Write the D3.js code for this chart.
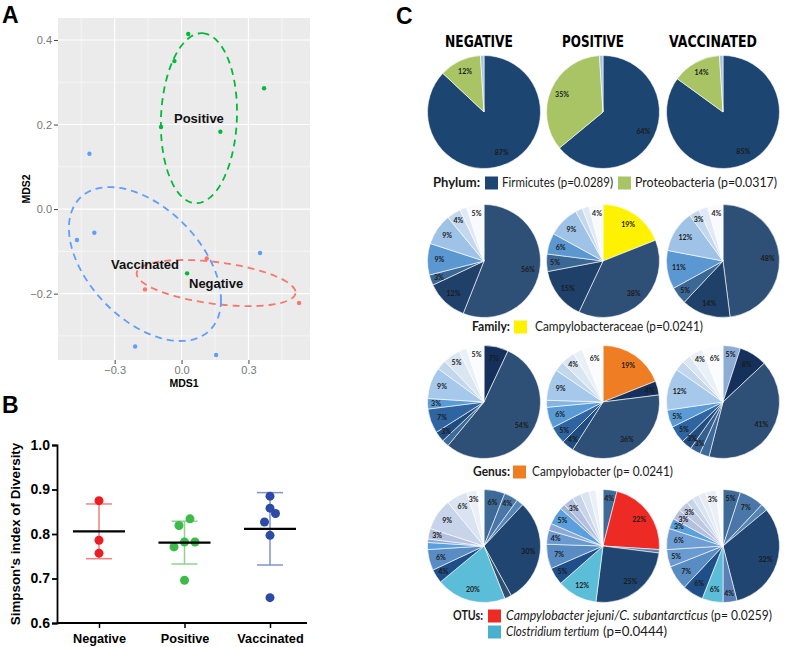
<!DOCTYPE html>
<html><head><meta charset="utf-8">
<script src="https://cdn.jsdelivr.net/npm/d3@7"></script>
<style>body{margin:0;background:#fff} svg{display:block}</style>
</head><body><svg id="c" width="787" height="647"></svg>
<script>
// ================= DATA =================
// Panel A : NMDS ordination
const groups = ["Negative", "Positive", "Vaccinated"];
const mdsNegX = [0.113, -0.164, 0.527];
const mdsNegY = [-0.117, -0.190, -0.222];
const mdsPosX = [0.030, -0.032, -0.092, 0.174, 0.370, 0.025];
const mdsPosY = [0.414, 0.350, 0.194, 0.183, 0.286, -0.152];
const mdsVacX = [-0.413, -0.391, -0.469, 0.352, -0.208, 0.155];
const mdsVacY = [0.131, -0.056, -0.073, -0.104, -0.325, -0.345];
// ellipse centre and conjugate semi-axis vectors (data units)
const ellNegC = [0.155, -0.175], ellNeg = [[0.356, -0.024], [-0.012, -0.049]];
const ellPosC = [0.078, 0.215], ellPos = [[0.0157, 0.201], [0.170, -0.004]];
const ellVacC = [-0.164, -0.130], ellVac = [[0.341, -0.085], [0.0, -0.161]];
const mdsXTicks = [-0.3, 0.0, 0.3];
const mdsYTicks = [-0.2, 0.0, 0.2, 0.4];

// Panel B : Simpson's index
const simpNeg = [0.875, 0.786, 0.757];
const simpPos = [0.834, 0.819, 0.782, 0.782, 0.771, 0.696];
const simpVac = [0.885, 0.858, 0.846, 0.827, 0.797, 0.657];
const simpTicks = [0.6, 0.7, 0.8, 0.9, 1.0];

// Panel C : relative abundances (%), slices clockwise from 12 o'clock
const pieTitles = ["NEGATIVE", "POSITIVE", "VACCINATED"];
const phylumKeys = ["Firmicutes", "Proteobacteria", "PhylumOther"];
const phylumNeg = [87, 12, 1];
const phylumPos = [64, 35, 1];
const phylumVac = [85, 14, 1];

const familyNegKeys = ["FamA", "FamB", "FamC", "FamD", "FamE", "FamF", "FamG", "FamOther"];
const familyNeg = [56, 12, 3, 9, 9, 4, 2, 5];
const familyPosKeys = ["Campylobacteraceae", "FamA", "FamB", "FamC", "FamD", "FamE", "FamF", "FamG", "FamOther"];
const familyPos = [19, 38, 15, 5, 6, 9, 2, 2, 4];
const familyVacKeys = ["FamA", "FamB", "FamC", "FamD", "FamE", "FamF", "FamG", "FamOther"];
const familyVac = [48, 14, 5, 11, 12, 3, 2.6, 4.4];

const genusNegKeys = ["GenA", "GenB", "GenC", "GenD", "GenE", "GenF", "GenH", "GenI", "GenJ", "GenK", "GenOther"];
const genusNeg = [7, 54, 2, 3, 7, 3, 9, 2.8, 5, 2.2, 5];
const genusPosKeys = ["Campylobacter", "GenA", "GenB", "GenD", "GenE", "GenF", "GenG", "GenH", "GenI", "GenJ", "GenK", "GenOther"];
const genusPos = [19, 4, 36, 3.5, 5, 6, 2, 9, 2.8, 4, 2.7, 6];
const genusVacKeys = ["GenTop", "GenA", "GenB", "GenC", "GenL", "GenD", "GenE", "GenF", "GenH", "GenI", "GenJ", "GenK", "GenOther"];
const genusVac = [5, 8, 41, 2.7, 3, 3, 5, 5, 12, 2.8, 2.5, 4, 6];

const otuNegKeys = ["OtuA", "OtuB", "OtuC", "OtuD", "OtuE", "Clostridium", "OtuF", "OtuG", "OtuI", "OtuJ", "OtuK", "OtuL", "OtuM", "OtuN", "OtuOther"];
const otuNeg = [6, 4, 2, 30, 2, 20, 4, 6, 2, 1, 3, 9, 6, 3, 2];
const otuPosKeys = ["OtuA", "CampyOTU", "OtuC", "OtuD", "Clostridium", "OtuF", "OtuG", "OtuH", "OtuJ", "OtuI", "OtuP", "OtuK", "OtuL", "OtuM", "OtuN", "OtuOther"];
const otuPos = [4, 22, 1, 25, 11.5, 5, 7, 4, 2, 5, 1.5, 3, 2.5, 2.5, 2, 2];
const otuVacKeys = ["OtuA", "OtuB", "OtuC", "OtuD", "OtuQ", "Clostridium", "OtuF", "OtuG", "OtuH", "OtuR", "OtuI", "OtuK", "OtuS", "OtuL", "OtuM", "OtuT", "OtuN", "OtuOther"];
const otuVac = [5, 7, 2, 32, 4, 6, 6, 7, 5, 6, 3, 3, 3, 2, 2, 2, 3, 2];

// ================= STYLE =================
const sliceColor = {
  Firmicutes: "#1d4571", Proteobacteria: "#a8c464", PhylumOther: "#a9c2e0",
  Campylobacteraceae: "#fff200",
  FamA: "#2f5076", FamB: "#1f4069", FamC: "#3b6795", FamD: "#5b97d1", FamE: "#9fc3e6",
  FamF: "#c3d8ee", FamG: "#dfeaf6", FamOther: "#f8fafd",
  Campylobacter: "#ee7d23",
  GenTop: "#8eabd3", GenA: "#15305a", GenB: "#2f5076", GenC: "#3d6a98", GenD: "#214c80",
  GenL: "#355f8e", GenE: "#2e64a0", GenF: "#5b9bd5", GenG: "#86b4e2", GenH: "#a6c8ea",
  GenI: "#c2d6ec", GenJ: "#dbe6f3", GenK: "#eaf0f8", GenOther: "#fbfcfe",
  CampyOTU: "#ee2a24", Clostridium: "#5bbdd7",
  OtuA: "#3e6a98", OtuB: "#4a77a8", OtuC: "#5585b5", OtuD: "#1f4570", OtuE: "#2f4f70",
  OtuF: "#1f4f88", OtuG: "#5a8cc4", OtuH: "#6a9bd0", OtuI: "#5aa0dd", OtuJ: "#8ea8d5",
  OtuP: "#9bb4dc", OtuQ: "#5a7fb5", OtuR: "#6f9ed5", OtuK: "#b4c0de", OtuS: "#bfc8e2",
  OtuL: "#c8d4ea", OtuM: "#dae3f1", OtuT: "#e4ebf5", OtuN: "#ebf0f8", OtuOther: "#fafbfd"
};
const grpColA = {Negative: "#f8766d", Positive: "#00ba38", Vaccinated: "#619cff"};
const grpColB = {Negative: "#ee1d24", Positive: "#3dbb4a", Vaccinated: "#2c4aa6"};
const barColB = {Negative: "#f3807c", Positive: "#8fd38f", Vaccinated: "#8193cf"};

const svg = d3.select("#c");
const SANS = "'Liberation Sans', Arial, Helvetica, sans-serif";
const NARROW = "'Liberation Sans Narrow', 'Arial Narrow', 'DejaVu Sans Condensed', sans-serif";
const CAL = "Lato, 'Open Sans', sans-serif";

// panel letters
[["A", 2, 23], ["B", 2, 413], ["C", 396, 24]].forEach(([t, x, y]) =>
  svg.append("text").attr("x", x).attr("y", y).text(t)
    .attr("font-family", SANS).attr("font-weight", "bold").attr("font-size", 23));

// ================= PANEL A =================
(function () {
  const L = 58, R = 310, T = 18, B = 360;
  const x = d3.scaleLinear().domain([-0.554, 0.576]).range([L, R]);
  const y = d3.scaleLinear().domain([-0.357, 0.452]).range([B, T]);
  const g = svg.append("g");
  g.append("rect").attr("x", L).attr("y", T).attr("width", R - L).attr("height", B - T).attr("fill", "#ebebeb");
  const xMinor = [-0.45, -0.15, 0.15, 0.45], yMinor = [-0.3, -0.1, 0.1, 0.3];
  g.selectAll(".vm").data(xMinor).join("line").attr("x1", d => x(d)).attr("x2", d => x(d)).attr("y1", T).attr("y2", B).attr("stroke", "#fff").attr("stroke-width", 0.55);
  g.selectAll(".hm").data(yMinor).join("line").attr("y1", d => y(d)).attr("y2", d => y(d)).attr("x1", L).attr("x2", R).attr("stroke", "#fff").attr("stroke-width", 0.55);
  g.selectAll(".vM").data(mdsXTicks).join("line").attr("x1", d => x(d)).attr("x2", d => x(d)).attr("y1", T).attr("y2", B).attr("stroke", "#fff").attr("stroke-width", 1.1);
  g.selectAll(".hM").data(mdsYTicks).join("line").attr("y1", d => y(d)).attr("y2", d => y(d)).attr("x1", L).attr("x2", R).attr("stroke", "#fff").attr("stroke-width", 1.1);

  const fmt = d => d === 0 ? "0.0" : d3.format(".1f")(d);
  const ax = g.append("g").attr("transform", `translate(${L},0)`).call(d3.axisLeft(y).tickValues(mdsYTicks).tickSize(4).tickPadding(2).tickFormat(fmt));
  const bx = g.append("g").attr("transform", `translate(0,${B})`).call(d3.axisBottom(x).tickValues(mdsXTicks).tickSize(4).tickPadding(2).tickFormat(fmt));
  [ax, bx].forEach(a => {
    a.select(".domain").remove();
    a.selectAll("line").attr("stroke", "#444");
    a.selectAll("text").attr("fill", "#777").attr("font-size", 11).attr("font-family", SANS);
  });
  g.append("text").attr("x", (L + R) / 2).attr("y", 387).attr("text-anchor", "middle").text("MDS1")
    .attr("font-family", SANS).attr("font-weight", "bold").attr("font-size", 10.5);
  g.append("text").attr("transform", `translate(30,${(T + B) / 2}) rotate(-90)`).attr("text-anchor", "middle").text("MDS2")
    .attr("font-family", SANS).attr("font-weight", "bold").attr("font-size", 10.5);

  const sets = [
    ["Negative", mdsNegX, mdsNegY, ellNegC, ellNeg],
    ["Positive", mdsPosX, mdsPosY, ellPosC, ellPos],
    ["Vaccinated", mdsVacX, mdsVacY, ellVacC, ellVac]
  ];
  svg.append("clipPath").attr("id", "clipA").append("rect").attr("x", L).attr("y", T).attr("width", R - L).attr("height", B - T);
  sets.forEach(([name, xs, ys, c, e]) => {
    const ts = d3.range(0, 2 * Math.PI + 0.001, Math.PI / 90);
    const pts = ts.map(t => [c[0] + e[0][0] * Math.cos(t) + e[1][0] * Math.sin(t), c[1] + e[0][1] * Math.cos(t) + e[1][1] * Math.sin(t)]);
    g.append("path").attr("clip-path", "url(#clipA)")
      .attr("d", d3.line().x(d => x(d[0])).y(d => y(d[1]))(pts))
      .attr("fill", "none").attr("stroke", grpColA[name]).attr("stroke-width", 1.8).attr("stroke-dasharray", "7,5");
    g.selectAll(null).data(xs.map((v, i) => [v, ys[i]])).join("circle")
      .attr("cx", d => x(d[0])).attr("cy", d => y(d[1])).attr("r", 2.2).attr("fill", grpColA[name]);
  });
  sets.forEach(([name, xs, ys, c]) => {
    g.append("text").attr("x", x(c[0])).attr("y", y(c[1]) + 4.5).attr("text-anchor", "middle").text(name)
      .attr("font-family", SANS).attr("font-weight", "bold").attr("font-size", 13).attr("fill", "#111");
  });
})();

// ================= PANEL B =================
(function () {
  const g = svg.append("g");
  const y = d3.scaleLinear().domain([0.6, 1.0]).range([623, 445]);
  const x = d3.scalePoint().domain(groups).range([99, 270]);
  const ay = g.append("g").attr("transform", "translate(57,0)").call(d3.axisLeft(y).tickValues(simpTicks).tickSize(5).tickPadding(2).tickFormat(d3.format(".1f")));
  ay.select(".domain").attr("stroke", "#000").attr("stroke-width", 1.8);
  ay.selectAll("line").attr("stroke", "#000").attr("stroke-width", 1.8);
  ay.selectAll("text").attr("font-family", SANS).attr("font-weight", "bold").attr("font-size", 14).attr("fill", "#000");
  const axb = g.append("g").attr("transform", "translate(0,623)").call(d3.axisBottom(x).tickSize(5).tickPadding(4).tickSizeOuter(0));
  axb.select(".domain").attr("d", "M57,0H307").attr("stroke", "#000").attr("stroke-width", 1.8);
  axb.selectAll("line").attr("stroke", "#000").attr("stroke-width", 1.5);
  axb.selectAll("text").attr("font-family", SANS).attr("font-weight", "bold").attr("font-size", 12.7).attr("fill", "#000").attr("dy", "0.85em");
  g.append("text").attr("transform", "translate(20,534) rotate(-90)").attr("text-anchor", "middle").text("Simpson's index of Diversity")
    .attr("font-family", SANS).attr("font-weight", "bold").attr("font-size", 13.4);

  const sets = [["Negative", simpNeg], ["Positive", simpPos], ["Vaccinated", simpVac]];
  sets.forEach(([name, vals]) => {
    const cx = x(name);
    const m = d3.mean(vals), sd = d3.deviation(vals);
    g.append("line").attr("x1", cx).attr("x2", cx).attr("y1", y(m - sd)).attr("y2", y(m + sd)).attr("stroke", barColB[name]).attr("stroke-width", 1.5);
    [m - sd, m + sd].forEach(v => g.append("line").attr("x1", cx - 13).attr("x2", cx + 13).attr("y1", y(v)).attr("y2", y(v)).attr("stroke", barColB[name]).attr("stroke-width", 1.5));
    const sorted = vals.slice().sort((a, b) => b - a);
    const clusters = [];
    sorted.forEach(v => {
      const last = clusters[clusters.length - 1];
      if (last && (last[last.length - 1] - v) < 0.02) last.push(v); else clusters.push([v]);
    });
    clusters.forEach(cl => {
      let minDy = Infinity;
      for (let i = 1; i < cl.length; i++) minDy = Math.min(minDy, y(cl[i]) - y(cl[i - 1]));
      const w = minDy < 4 ? 21 : 11;
      const offs = cl.length === 1 ? [0] : cl.length === 2 ? [w / 2, -w / 2] : [0, w / 2, -w / 2, w, -w];
      cl.forEach((v, i) => g.append("circle").attr("cx", cx + offs[i]).attr("cy", y(v)).attr("r", 4.5).attr("fill", grpColB[name]));
    });
    g.append("line").attr("x1", cx - 26).attr("x2", cx + 26).attr("y1", y(m)).attr("y2", y(m)).attr("stroke", "#000").attr("stroke-width", 2.2);
  });
})();

// ================= PANEL C =================
(function () {
  const g = svg.append("g");
  const cxs = [484, 603, 723];
  const titleX = [479, 593, 713];
  const titleW = [68, 62, 88];
  const R = 56.5;
  pieTitles.forEach((t, i) => g.append("text").attr("x", titleX[i]).attr("y", 47).attr("text-anchor", "middle").text(t)
    .attr("font-family", NARROW).attr("font-weight", "bold").attr("font-size", 16.5)
    .attr("textLength", titleW[i]).attr("lengthAdjust", "spacingAndGlyphs"));

  const rows = [
    {cy: 112, pies: [[phylumKeys, phylumNeg], [phylumKeys, phylumPos], [phylumKeys, phylumVac]]},
    {cy: 261, pies: [[familyNegKeys, familyNeg], [familyPosKeys, familyPos], [familyVacKeys, familyVac]]},
    {cy: 402, pies: [[genusNegKeys, genusNeg], [genusPosKeys, genusPos], [genusVacKeys, genusVac]]},
    {cy: 546, pies: [[otuNegKeys, otuNeg], [otuPosKeys, otuPos], [otuVacKeys, otuVac]]}
  ];
  const pie = d3.pie().sort(null).value(d => d.v);
  const arc = d3.arc().innerRadius(0).outerRadius(R);
  rows.forEach(row => {
    row.pies.forEach(([keys, vals], i) => {
      const data = vals.map((v, j) => ({k: keys[j], v}));
      const pg = g.append("g").attr("transform", `translate(${cxs[i]},${row.cy})`);
      const arcs = pie(data);
      pg.selectAll("path").data(arcs).join("path").attr("d", arc)
        .attr("fill", d => sliceColor[d.data.k]).attr("stroke", "#fff").attr("stroke-width", 0.6);
      pg.selectAll("text").data(arcs.filter(d => d.data.v >= 3)).join("text")
        .attr("transform", d => {
          const a = (d.startAngle + d.endAngle) / 2, rr = R * (d.data.v < 6 ? 0.85 : 0.79);
          return `translate(${rr * Math.sin(a)},${-rr * Math.cos(a) + 2.5})`;
        })
        .attr("text-anchor", "middle").text(d => Math.round(d.data.v) + "%")
        .attr("font-family", CAL).attr("font-weight", "bold").attr("font-size", 7).attr("fill", "#1a1a1a");
    });
  });

  function legend(y, items) {
    items.forEach(it => {
      if (it.sq) {
        g.append("rect").attr("x", it.x).attr("y", y - 10.5).attr("width", 13).attr("height", 13).attr("fill", it.sq);
      } else {
        g.append("text").attr("x", it.x).attr("y", y).text(it.t)
          .attr("font-family", CAL).attr("font-size", 12.6).attr("fill", "#1a1a1a")
          .attr("font-weight", it.s === "b" ? "bold" : null).attr("font-style", it.s === "i" ? "italic" : null)
          .attr("textLength", it.w).attr("lengthAdjust", "spacingAndGlyphs");
      }
    });
  }
  legend(187, [
    {x: 433, w: 47, t: "Phylum:", s: "b"}, {x: 485, sq: sliceColor.Firmicutes},
    {x: 502, w: 111, t: "Firmicutes (p=0.0289)"}, {x: 618, sq: sliceColor.Proteobacteria},
    {x: 635, w: 142, t: "Proteobacteria (p=0.0317)"}
  ]);
  legend(331, [
    {x: 472, w: 38, t: "Family:", s: "b"}, {x: 514, sq: sliceColor.Campylobacteraceae},
    {x: 535, w: 168, t: "Campylobacteraceae (p=0.0241)"}
  ]);
  legend(476, [
    {x: 473, w: 37, t: "Genus:", s: "b"}, {x: 513, sq: sliceColor.Campylobacter},
    {x: 532, w: 141, t: "Campylobacter (p= 0.0241)"}
  ]);
  legend(620, [
    {x: 453, w: 30, t: "OTUs:", s: "b"}, {x: 488, sq: sliceColor.CampyOTU},
    {x: 506, w: 202, t: "Campylobacter jejuni/C. subantarcticus", s: "i"},
    {x: 711, w: 61, t: "(p= 0.0259)"}
  ]);
  legend(636, [
    {x: 488, sq: "#4ab0cf"},
    {x: 506, w: 93, t: "Clostridium tertium", s: "i"},
    {x: 603, w: 64, t: "(p=0.0444)"}
  ]);
})();
</script></body></html>
